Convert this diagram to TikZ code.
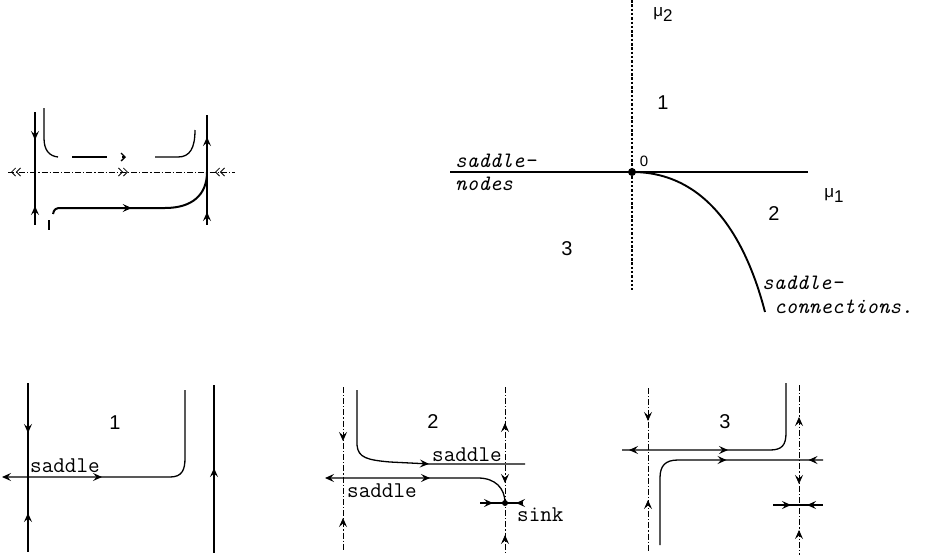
\documentclass[tikz,border=0pt]{standalone}
\usepackage{fontspec}
\setsansfont{Liberation Sans}
\usetikzlibrary{arrows.meta,decorations.markings}

\tikzset{
  flowtip/.tip={Stealth[length=9pt,width=8pt,inset=3.5pt]},
  fw/.style={postaction={decorate,decoration={markings,mark=at position #1pt with {\arrow{flowtip}}}}},
  bw/.style={postaction={decorate,decoration={markings,mark=at position #1pt with {\arrowreversed{flowtip}}}}},
  fww/.style={postaction={decorate,decoration={markings,mark=at position #1pt with {\arrow{Straight Barb[length=4pt,width=8pt] Straight Barb[length=4pt,width=8pt]}}}}},
  bww/.style={postaction={decorate,decoration={markings,mark=at position #1pt with {\arrowreversed{Straight Barb[length=4pt,width=8pt] Straight Barb[length=4pt,width=8pt]}}}}},
  orbit/.style={line width=1.3pt},
  heavyorbit/.style={line width=2pt},
  axisline/.style={line width=0.8pt, dash pattern=on 6pt off 2pt on 1.2pt off 2pt},
  lbl/.style={font=\fontsize{22.5}{26}\selectfont\ttfamily, inner sep=0pt, anchor=west},
  slbl/.style={font=\fontsize{22}{25}\selectfont\ttfamily\itshape, inner sep=0pt, anchor=west},
  num/.style={font=\fontsize{20}{24}\selectfont\sffamily, inner sep=0pt},
}

\begin{document}
\begin{tikzpicture}[x=1pt, y=-1pt, line join=round]
  \useasboundingbox (0,0) rectangle (926,557);

  % top left: flow at the bifurcation point
  \draw[orbit, fw=28, bw=94] (35,112) -- (35,225);
  \draw[line width=1.6pt, bw=22, bw=97] (207,115) -- (207,225);
  \draw[axisline, bww=3, fww=120, bww=207] (8,172) -- (235,172);
  \draw[orbit] (44,108) -- (44,138) .. controls (44,150) and (49,156) .. (58,157);
  \draw[orbit] (72,157) -- (107,157);
  \draw[orbit, -{Straight Barb[length=4pt,width=8pt]}] (122,157) -- (126,157);
  \draw[orbit] (155,157) -- (178,157) .. controls (190,157) and (195,148) .. (195,130);
  \draw[orbit] (49,220) -- (49,230);
  \draw[heavyorbit, fw=82] (53,214) .. controls (54,209) and (56,208) .. (61,208)
    -- (165,208) .. controls (192,208) and (207,195) .. (207,172);

  % top right: parameter plane
  \draw[line width=1.2pt, dash pattern=on 2.5pt off 1.8pt] (632,0) -- (632,290);
  \draw[line width=1.6pt] (450,172) -- (808,172);
  \draw[line width=1.9pt] (632,172) .. controls (705,172) and (745,235) .. (765,312);
  \fill (632,172) circle (4pt);
  \node[font=\fontsize{17}{20}\selectfont\sffamily, inner sep=0pt] (mu2) at (663,15) {μ\raisebox{-5pt}{2}};
  \node[font=\fontsize{17}{20}\selectfont\sffamily, inner sep=0pt] (mu1) at (834,196) {μ\raisebox{-5pt}{1}};
  \node[font=\fontsize{15}{18}\selectfont\sffamily, inner sep=0pt] (origin) at (644,161) {0};
  \node[num] (reg1) at (663,103) {1};
  \node[num] (reg2) at (774,214) {2};
  \node[num] (reg3) at (567,249) {3};
  \node[slbl] (sn1) at (455,161) {saddle-};
  \node[slbl] (sn2) at (455,184) {nodes};
  \node[slbl] (sc1) at (762,283) {saddle-};
  \node[slbl] (sc2) at (774,307) {connections.};

  % bottom left: region 1
  \draw[orbit, fw=50, bw=130] (28,383) -- (28,552);
  \draw[orbit, {flowtip}-, fw=100] (2,477) -- (170,477) .. controls (182,477) and (185,470) .. (185,458) -- (185,390);
  \draw[orbit, bw=83] (214,385) -- (214,553);
  \node[num] (lab1) at (115,423) {1};
  \node[lbl] (sad1) at (30,466) {saddle};

  % bottom middle: region 2
  \draw[axisline, fw=54, bw=131] (343,387) -- (343,550);
  \draw[orbit, fw=135] (357,390) -- (357,445) .. controls (358,458) and (368,460) .. (390,462)
    -- (430,464) -- (525,464);
  \draw[orbit, {flowtip}-, fw=105] (325,478) -- (478,478) .. controls (495,478) and (505,488) .. (505,503);
  \draw[axisline, bw=36, fw=96, bw=148] (505,387) -- (505,552);
  \draw[orbit, fw=13, bw=36] (480,503) -- (523,503);
  \fill (505,503) circle (3pt);
  \node[num] (lab2) at (433,422) {2};
  \node[lbl] (sad2a) at (432,455) {saddle};
  \node[lbl] (sad2b) at (347,491) {saddle};
  \node[lbl] (sink) at (517,515) {sink};

  % bottom right: region 3
  \draw[axisline, fw=33, bw=112] (648,388) -- (648,552);
  \draw[orbit, bw=7, fw=106] (622,450) -- (770,450) .. controls (782,450) and (786,445) .. (786,433) -- (786,383);
  \draw[orbit, fw=145, bw=227] (660,545) -- (660,478) .. controls (660,466) and (665,460) .. (678,460) -- (823,460);
  \draw[axisline, bw=32, fw=99, bw=145] (799,385) -- (799,555);
  \draw[orbit, fw=18, bw=34] (773,505) -- (823,505);
  \node[num] (lab3) at (725,422) {3};
\end{tikzpicture}
\end{document}
